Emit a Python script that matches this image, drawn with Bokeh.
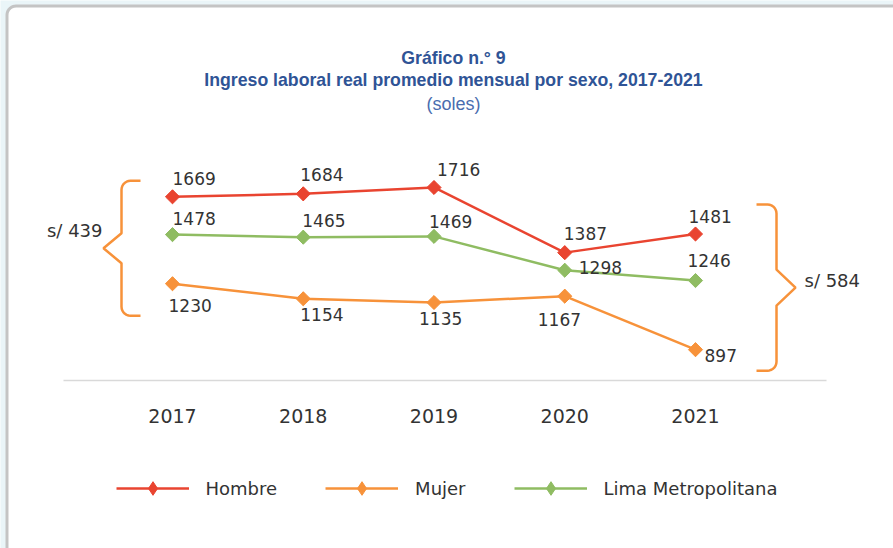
import numpy as np
from bokeh.plotting import figure
from bokeh.models import (Range1d, FixedTicker, ColumnDataSource, Legend,
                          LegendItem, Label)
from bokeh.core.properties import value
from bokeh.embed import file_html
from bokeh.resources import INLINE

# ---------------- data ----------------
years = [2017, 2018, 2019, 2020, 2021]
hombre = [1669, 1684, 1716, 1387, 1481]
mujer = [1230, 1154, 1135, 1167, 897]
lima = [1478, 1465, 1469, 1298, 1246]
series_names = ["Hombre", "Mujer", "Lima Metropolitana"]
title_1 = "Gráfico n.° 9"
title_2 = "Ingreso laboral real promedio mensual por sexo, 2017-2021"
subtitle = "(soles)"

# ---------------- styles ----------------
RED = "#E94430"
ORANGE = "#F7923A"
GREEN = "#8FBC62"
TEXT = "#333333"
BLUE = "#2F5496"
BLUE2 = "#4A6DAF"
PAGE_BG = "#EAF5F8"
BOX_LINE = "#C4C4C4"
FONT = "DejaVu Sans"
TFONT = "Liberation Sans"

FW, FH = 893, 548
x_start, x_end = 2015.6845, 2022.5143
y_end = 2660.4
y_start = y_end - FH / 0.198
axis_y = 741.2
axis_bounds = (2016.1664, 2022.0019)
sx = FW / (x_end - x_start)
sy = FH / (y_end - y_start)


def dx_(px):
    return x_start + px / sx


def dy_(py):
    return y_end - py / sy


# label pixel offsets (style, per point)
h_dx = [0, -3, 3, -1, -7]
h_dy = [-18, -19, -18, -19, -18]
l_dx = [0, -1, -5, 14, -8]
l_dy = [-16, -17, -15, -3, -20]
m_dx = [-4, -3, -15, -27, 9]
m_dy = [22, 16, 16, 23, 6]

p = figure(frame_width=FW, frame_height=FH, output_backend="svg", toolbar_location=None,
           x_range=Range1d(x_start, x_end), y_range=Range1d(y_start, y_end),
           y_axis_location=None, min_border_left=0, min_border_right=0,
           min_border_top=0, min_border_bottom=0, title=None)
p.background_fill_color = PAGE_BG
p.border_fill_color = "white"
p.outline_line_color = None
p.grid.visible = False

# rounded white card with grey border
r = 9
t = np.linspace(np.pi, 1.5 * np.pi, 10)
card_px = [6.5 + r + r * np.cos(a) for a in t]
card_py = [5.5 + r + r * np.sin(a) for a in t]
card_px += [905, 905, 6.5]
card_py += [5.5, 560, 560]
p.patch([dx_(v) for v in card_px], [dy_(v) for v in card_py],
        fill_color="white", line_color=BOX_LINE, line_width=3)

# titles
for txt, py, size, style, col in ((title_1, 57, "17.7px", "bold", BLUE),
                                  (title_2, 79, "17.7px", "bold", BLUE),
                                  (subtitle, 103, "18px", "normal", BLUE2)):
    p.add_layout(Label(x=dx_(453), y=dy_(py), text=txt, text_font=TFONT,
                       text_font_size=size, text_font_style=style, text_color=col,
                       text_align="center", text_baseline="middle"))

# x axis, drawn at a fixed height inside the plot area
ax = p.xaxis[0]
ax.fixed_location = axis_y
ax.ticker = FixedTicker(ticks=years)
ax.bounds = axis_bounds
ax.major_tick_line_color = None
ax.minor_tick_line_color = None
ax.axis_line_color = "#D9D9D9"
ax.axis_line_width = 1.5
ax.major_label_text_font = FONT
ax.major_label_text_font_size = "19px"
ax.major_label_text_color = TEXT
ax.major_label_standoff = 22

items = []
for name, vals, col, ddx, ddy in ((series_names[0], hombre, RED, h_dx, h_dy),
                                  (series_names[1], mujer, ORANGE, m_dx, m_dy),
                                  (series_names[2], lima, GREEN, l_dx, l_dy)):
    src = ColumnDataSource(dict(x=years, y=vals, t=[str(v) for v in vals], dx=ddx, dy=ddy))
    lr = p.line("x", "y", source=src, line_color=col, line_width=2.5)
    # diamond markers (also used for the legend, where glyphs are not rotated)
    dr = p.scatter("x", "y", source=src, marker="diamond", size=13,
                   fill_color=col, line_color=col)
    p.scatter("x", "y", source=src, marker="square", angle=np.pi / 4, size=10,
              fill_color=col, line_color=col)
    p.text("x", "y", text="t", source=src, x_offset="dx", y_offset="dy",
           text_font=value(FONT), text_font_size="17px", text_color=TEXT,
           text_align="left", text_baseline="middle")
    items.append(LegendItem(label=name, renderers=[lr, dr]))


def brace(xv, xe, xtip, top, bot, r_px, h_px):
    d = np.sign(xe - xv)
    rx, ry = r_px / sx, r_px / sy
    mid = (top + bot) / 2
    hy = h_px / sy
    tt = np.linspace(0, np.pi / 2, 8)
    cx = xv + d * rx
    tx = cx - d * rx * np.sin(tt)
    ty = (top - ry) + ry * np.cos(tt)
    bx = cx - d * rx * np.cos(tt)
    by = (bot + ry) - ry * np.sin(tt)
    xs = [xe] + list(tx) + [xv, xtip, xv] + list(bx) + [xe]
    ys = [top] + list(ty) + [mid + hy, mid, mid - hy] + list(by) + [bot]
    return xs, ys, mid


# left brace: gap Hombre-Mujer in first year
lx, ly, lmid = brace(years[0] - 51 / sx, years[0] - 32 / sx, years[0] - 69 / sx,
                     hombre[0] + 16 / sy, mujer[0] - 32 / sy, 9, 15)
p.line(lx, ly, line_color=ORANGE, line_width=2.5)
p.add_layout(Label(x=years[0] - 70 / sx, y=lmid + 18 / sy,
                   text=f"s/ {hombre[0] - mujer[0]}", text_font=FONT,
                   text_font_size="18px", text_color=TEXT,
                   text_align="right", text_baseline="middle"))

# right brace: gap Hombre-Mujer in last year
rx_, ry_, rmid = brace(years[-1] + 81 / sx, years[-1] + 61 / sx, years[-1] + 100 / sx,
                       hombre[-1] + 29.5 / sy, mujer[-1] - 21 / sy, 9, 18)
p.line(rx_, ry_, line_color=ORANGE, line_width=2.5)
p.add_layout(Label(x=years[-1] + 109 / sx, y=rmid + 7 / sy,
                   text=f"s/ {hombre[-1] - mujer[-1]}", text_font=FONT,
                   text_font_size="18px", text_color=TEXT,
                   text_align="left", text_baseline="middle"))

legend = Legend(items=items, orientation="horizontal", location="bottom_center",
                glyph_width=73, glyph_height=34, label_standoff=17, spacing=48,
                label_text_font=FONT, label_text_font_size="18px",
                label_text_color=TEXT, label_height=20, padding=0, margin=43,
                border_line_color=None, background_fill_alpha=0)
p.add_layout(legend)

open("out.html", "w").write(file_html(p, INLINE))
